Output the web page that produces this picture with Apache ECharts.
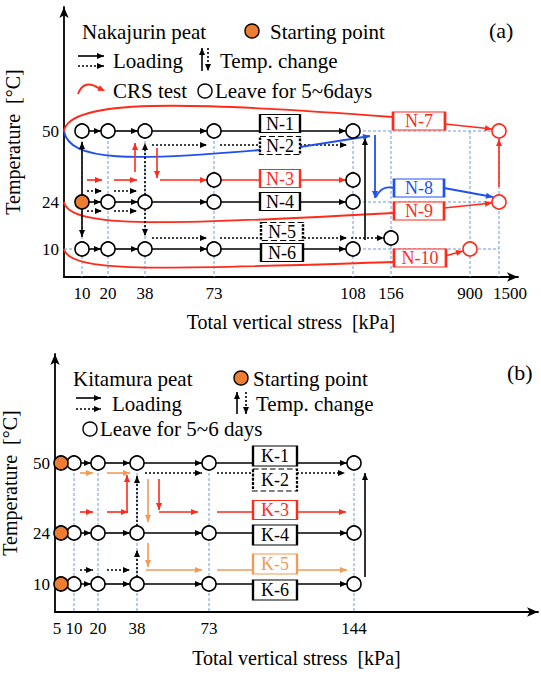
<!DOCTYPE html>
<html>
<head>
<meta charset="utf-8">
<script src="https://cdn.jsdelivr.net/npm/echarts@6/dist/echarts.min.js"></script>
<style>
  html, body { margin: 0; padding: 0; background: #fff; }
  #main { width: 541px; height: 675px; }
</style>
</head>
<body>
<div id="main"></div>
<script>
// ---------- data ----------
const stressA = [10, 20, 38, 73, 108, 156, 900, 1500];   // tick labels (a)
const stressB = [5, 10, 20, 38, 73, 144];                 // tick labels (b)
const temps = [10, 24, 50];                               // temperature levels
const stepsA = [10, 20, 38, 73, 108];                     // loading steps (a)
const stepsB = [10, 20, 38, 73, 144];                     // loading steps (b)
const crsEndA = [[1500, 50], [1500, 24], [900, 10]];      // CRS end points (N-7/N-8,N-9/N-10)
const boxNamesA = ['N-1', 'N-2', 'N-3', 'N-4', 'N-5', 'N-6', 'N-7', 'N-8', 'N-9', 'N-10'];
const boxNamesB = ['K-1', 'K-2', 'K-3', 'K-4', 'K-5', 'K-6'];

// ---------- schematic axis layout (px from axis origin) ----------
const xPosA = {10: 18, 20: 44, 38: 81, 73: 150, 108: 289, 156: 327, 900: 406, 1500: 435};
const yPosA = {50: 146, 24: 75, 10: 28};
const xPosB = {5: 6, 10: 19, 20: 43, 38: 82, 73: 154, 144: 299};
const yPosB = {50: 149, 24: 79, 10: 28};
const labelNudgeA = {1500: 11};
const labelNudgeB = {5: -4};

const FONT = '"Liberation Serif", "Times New Roman", serif';
const RED = '#ff2a1a', BLUE = '#2050f0', ORANGE = '#ed7d31', ORG_LINE = '#f39a55', GUIDE = '#6d9be0';
const R = 7;

function rowArrows(xPos, steps, y) {
  const out = [];
  for (let i = 0; i < steps.length - 1; i++) {
    out.push([xPos[steps[i]] + R, y, xPos[steps[i + 1]] - R, y, 1]);
  }
  return out;
}

function head(from, to, color) {
  const dx = to[0] - from[0], dy = to[1] - from[1];
  const L = Math.hypot(dx, dy) || 1;
  const ux = dx / L, uy = dy / L, len = 7, hw = 3;
  const bx = to[0] - ux * len, by = to[1] - uy * len;
  return {type: 'polygon', shape: {points: [[to[0], to[1]], [bx - uy * hw, by + ux * hw], [bx + uy * hw, by - ux * hw]]},
    style: {fill: color, stroke: null}};
}

function segSeries(grid, color, dash, width, data, z) {
  return {
    type: 'custom', xAxisIndex: grid, yAxisIndex: grid, silent: true, clip: false, z: z || 3,
    encode: {x: [0, 2], y: [1, 3]},
    data: data,
    renderItem: function (params, api) {
      const p1 = api.coord([api.value(0), api.value(1)]);
      const p2 = api.coord([api.value(2), api.value(3)]);
      const h = api.value(4);
      const kids = [{type: 'line', shape: {x1: p1[0], y1: p1[1], x2: p2[0], y2: p2[1]},
        style: {stroke: color, lineWidth: width, lineDash: dash, fill: 'none'}}];
      if (h >= 1) kids.push(head(p1, p2, color));
      if (h >= 2) kids.push(head(p2, p1, color));
      return {type: 'group', children: kids};
    }
  };
}

function curveSeries(grid, color, data) {
  return {
    type: 'custom', xAxisIndex: grid, yAxisIndex: grid, silent: true, clip: false, z: 2,
    encode: {x: [0, 2, 4, 6], y: [1, 3, 5, 7]},
    data: data,
    renderItem: function (params, api) {
      const p = [0, 2, 4, 6].map(i => api.coord([api.value(i), api.value(i + 1)]));
      return {type: 'bezierCurve', shape: {x1: p[0][0], y1: p[0][1], cpx1: p[1][0], cpy1: p[1][1],
        cpx2: p[2][0], cpy2: p[2][1], x2: p[3][0], y2: p[3][1]},
        style: {stroke: color, lineWidth: 1.8, fill: 'none'}};
    }
  };
}

function circles(grid, pts, fill, stroke) {
  return {type: 'scatter', xAxisIndex: grid, yAxisIndex: grid, silent: true, z: 6,
    symbol: 'circle', symbolSize: 14, data: pts,
    itemStyle: {color: fill, borderColor: stroke, borderWidth: 1.6, opacity: 1}};
}

function boxes(grid, items) {
  return {type: 'scatter', xAxisIndex: grid, yAxisIndex: grid, silent: true, z: 5,
    symbol: 'rect',
    data: items.map(b => ({name: b.name, value: [b.x, b.y], symbolSize: b.size,
      itemStyle: {color: '#fff', opacity: 1, borderColor: b.color, borderWidth: 1.6, borderType: b.dash ? [4, 2] : 'solid'},
      label: {color: b.color}})),
    label: {show: true, position: 'inside', formatter: '{b}', fontSize: 18, fontFamily: FONT,
      textBorderWidth: 0, opacity: 1}};
}

function xAxisCfg(grid, max, ticks, xPos, nudge, gap) {
  const pos = ticks.map(s => xPos[s] + (nudge[s] || 0));
  const map = {};
  pos.forEach((p, i) => { map[p] = String(ticks[i]); });
  return {type: 'value', gridIndex: grid, min: 0, max: max, splitLine: {show: false}, axisTick: {show: false},
    axisLine: {lineStyle: {color: '#000', width: 1.8}, symbol: ['none', 'arrow'], symbolSize: [7, 11]},
    axisLabel: {customValues: pos, formatter: v => map[Math.round(v)] || '', color: '#000', fontSize: 17,
      fontFamily: FONT, margin: 8},
    name: 'Total vertical stress  [kPa]', nameLocation: 'middle', nameGap: gap,
    nameTextStyle: {color: '#000', fontSize: 20, fontFamily: FONT}};
}

function yAxisCfg(grid, max, yPos, gap) {
  const pos = temps.map(t => yPos[t]);
  const map = {};
  pos.forEach((p, i) => { map[p] = String(temps[i]); });
  return {type: 'value', gridIndex: grid, min: 0, max: max, splitLine: {show: false}, axisTick: {show: false},
    axisLine: {lineStyle: {color: '#000', width: 1.8}, symbol: ['none', 'arrow'], symbolSize: [7, 11]},
    axisLabel: {customValues: pos, formatter: v => map[Math.round(v)] || '', color: '#000', fontSize: 17,
      fontFamily: FONT, margin: 5},
    name: 'Temperature  [°C]', nameLocation: 'middle', nameGap: gap,
    nameTextStyle: {color: '#000', fontSize: 20, fontFamily: FONT}};
}

// ---------- panel (a) marks ----------
const XA = xPosA, YA = yPosA;
const rN2 = 132, rN3 = 97, rN5 = 39, rUp = 86, rDn = 66;

const openA = [];
temps.forEach(t => stepsA.forEach(s => { if (!(t === 24 && s === 10)) openA.push([XA[s], YA[t]]); }));
openA.push([XA[73], rN3], [XA[108], rN3], [XA[156], rN5]);
const redOpenA = crsEndA.map(e => [XA[e[0]], YA[e[1]]]);

const solidA = [].concat(rowArrows(XA, stepsA, YA[50]), rowArrows(XA, stepsA, YA[24]), rowArrows(XA, stepsA, YA[10]), [
  [XA[10], YA[24] + R, XA[10], 135, 1], [XA[10], YA[24] - R, XA[10], 40, 1],
  [301, 37, 301, 139, 1]
]);
const dottedA = [
  [88, rN2, 143, rN2, 1], [156, rN2, 283, rN2, 1],
  [88, rN5, 143, rN5, 1], [156, rN5, 283, rN5, 1], [287, rN5, XA[156] - R, rN5, 1],
  [23, rUp, 38, rUp, 1], [50, rUp, 73, rUp, 1], [23, rDn, 38, rDn, 1], [50, rDn, 73, rDn, 1],
  [XA[38], YA[24] + R, XA[38], 134, 1], [XA[38], YA[24] - R, XA[38], 41, 1]
];
const redA = [
  [23, rN3, 38, rN3, 1], [50, rN3, 73, rN3, 1],
  [71, 105, 71, 134, 1], [93, 129, 93, 99, 1], [96, rN3, 143, rN3, 1],
  [XA[73] + R, rN3, XA[108] - R, rN3, 1],
  [381, 153, 428, 148, 1], [380, 69, 428, 74, 1], [381, 21, 399, 26, 1],
  [XA[1500], 90, XA[1500], YA[50] - R - 1, 1]
];
const blueA = [
  [236, 130, 306, 141, 1], [311, 142, 311, 79, 1], [380, 89, 429, 80, 1]
];
const guidesA = [];
[10, 20, 38, 73, 108, 156, 900, 1500].forEach(s => guidesA.push([XA[s], YA[50], XA[s], 0, 0]));
[50, 24, 10].forEach(t => guidesA.push([XA[108], YA[t], XA[1500], YA[t], 0]));
guidesA.push([0, YA[10], XA[10], YA[10], 0]);

const redCurvesA = [
  [0, YA[50], 5, 178, 120, 176, 329, 160],
  [0, YA[24], 5, 48, 110, 52, 330, 64],
  [0, YA[10], 5, 3, 110, 8, 330, 15]
];
const blueCurvesA = [
  [0, YA[50], 5, 115, 70, 116, 196, 127],
  [312, 80, 316, 88, 321, 91, 331, 89]
];
const boxStyleA = [
  {x: 216, y: 153.5, size: [40, 18], color: '#000'},
  {x: 216, y: 131.5, size: [40, 18], color: '#000', dash: true},
  {x: 216, y: 98.5, size: [40, 18], color: RED},
  {x: 216, y: 75.5, size: [40, 18], color: '#000'},
  {x: 218, y: 45.5, size: [42, 18], color: '#000', dash: true},
  {x: 218, y: 24.5, size: [42, 18], color: '#000'},
  {x: 355, y: 156, size: [52, 18], color: RED},
  {x: 355, y: 89, size: [50, 18], color: BLUE},
  {x: 355, y: 66, size: [50, 18], color: RED},
  {x: 356, y: 19, size: [52, 18], color: RED}
];
const boxesA = boxNamesA.map((n, i) => Object.assign({name: n}, boxStyleA[i]));

// ---------- panel (b) marks ----------
const XB = xPosB, YB = yPosB;
const rK2 = 139, rK3 = 100, rK5 = 42;
const openB = [];
temps.forEach(t => stepsB.forEach(s => openB.push([XB[s], YB[t]])));
const startB = temps.map(t => [XB[5], YB[t]]);

const solidB = [].concat(rowArrows(XB, stepsB, YB[50]), rowArrows(XB, stepsB, YB[24]), rowArrows(XB, stepsB, YB[10]), [
  [310, 35, 310, 139, 1]
]);
const dottedB = [
  [90, rK2, 147, rK2, 1], [162, rK2, 290, rK2, 1],
  [25, rK5, 38, rK5, 1], [52, rK5, 75, rK5, 1],
  [XB[38], YB[24] + R, XB[38], 136, 1], [XB[38], YB[10] + R, XB[38], 62, 1]
];
const redB = [
  [25, rK3, 38, rK3, 1], [52, rK3, 73, rK3, 1],
  [72, 99, 72, 137, 1], [104, 133, 104, 102, 1], [104, rK3, 143, rK3, 1],
  [162, rK3, 291, rK3, 1]
];
const orangeB = [
  [25, rK2, 38, rK2, 1], [52, rK2, 75, rK2, 1],
  [93, 133, 93, 90, 1], [93, 69, 93, 45, 1],
  [91, rK5, 147, rK5, 1], [162, rK5, 292, rK5, 1]
];
const guidesB = stepsB.map(s => [XB[s], YB[50], XB[s], 0, 0]);
const boxStyleB = [
  {x: 220, y: 156, size: [44, 20], color: '#000'},
  {x: 220, y: 132, size: [44, 22], color: '#000', dash: true},
  {x: 220, y: 102, size: [44, 19], color: RED},
  {x: 220, y: 77, size: [44, 20], color: '#000'},
  {x: 220, y: 48, size: [44, 20], color: ORG_LINE},
  {x: 220, y: 22, size: [44, 20], color: '#000'}
];
const boxesB = boxNamesB.map((n, i) => Object.assign({name: n}, boxStyleB[i]));

// ---------- legend graphics ----------
function gText(x, y, text, size) {
  return {type: 'text', x: x, y: y, silent: true,
    style: {text: text, font: (size || 21) + 'px ' + FONT, fill: '#000', verticalAlign: 'middle'}};
}
function gArrow(x1, y1, x2, y2, color, dash) {
  return [{type: 'line', silent: true, shape: {x1: x1, y1: y1, x2: x2, y2: y2},
    style: {stroke: color, lineWidth: 1.6, lineDash: dash || null}}, head([x1, y1], [x2, y2], color)];
}
function gCircle(x, y, fill) {
  return {type: 'circle', silent: true, shape: {cx: x, cy: y, r: 7}, style: {fill: fill, stroke: '#000', lineWidth: 1.4}};
}
const graphics = [].concat(
  gText(82, 32, 'Nakajurin peat'), gCircle(252, 31, ORANGE), gText(270, 32, 'Starting point'), gText(489, 30, '(a)', 22),
  gArrow(78, 56, 104, 56, '#000'), gArrow(78, 66, 104, 66, '#000', [2, 2]), gText(113, 61, 'Loading'),
  gArrow(202, 71, 202, 48, '#000'), gArrow(208, 48, 208, 71, '#000', [2, 2]), gText(220, 61, 'Temp. change'),
  {type: 'bezierCurve', silent: true, shape: {x1: 78, y1: 94, cpx1: 84, cpy1: 78, x2: 100, y2: 89},
    style: {stroke: RED, lineWidth: 1.8, fill: 'none'}},
  head([94, 86], [105, 91], RED),
  gText(113, 91, 'CRS test'), gCircle(205, 91, '#fff'), gText(215, 91, 'Leave for 5~6days'),

  gText(73, 379, 'Kitamura peat'), gCircle(241, 378, ORANGE), gText(253, 379, 'Starting point'), gText(507, 372, '(b)', 22),
  gArrow(76, 398, 101, 398, '#000'), gArrow(76, 409, 101, 409, '#000', [2, 2]), gText(112, 404, 'Loading'),
  gArrow(237, 414, 237, 392, '#000'), gArrow(246, 392, 246, 414, '#000', [2, 2]), gText(256, 404, 'Temp. change'),
  gCircle(90, 429, '#fff'), gText(100, 429, 'Leave for 5~6 days')
);

const chart = echarts.init(document.getElementById('main'), null, {renderer: 'svg'});
chart.setOption({
  animation: false,
  backgroundColor: '#fff',
  grid: [
    {left: 64, top: 7, width: 454, height: 270, outerBoundsMode: 'none', containLabel: false},
    {left: 55, top: 354, width: 483, height: 258, outerBoundsMode: 'none', containLabel: false}
  ],
  xAxis: [xAxisCfg(0, 454, stressA, xPosA, labelNudgeA, 35), xAxisCfg(1, 483, stressB, xPosB, labelNudgeB, 36)],
  yAxis: [yAxisCfg(0, 270, yPosA, 41), yAxisCfg(1, 258, yPosB, 35)],
  graphic: graphics,
  series: [
    segSeries(0, GUIDE, [3, 2], 1, guidesA, 1),
    curveSeries(0, RED, redCurvesA),
    curveSeries(0, BLUE, blueCurvesA),
    segSeries(0, '#000', null, 1.6, solidA),
    segSeries(0, '#000', [2, 2], 1.6, dottedA),
    segSeries(0, RED, null, 1.6, redA),
    segSeries(0, BLUE, null, 1.8, blueA),
    boxes(0, boxesA),
    circles(0, openA, '#fff', '#000'),
    circles(0, redOpenA, '#fff', RED),
    circles(0, [[XA[10], YA[24]]], ORANGE, '#000'),

    segSeries(1, GUIDE, [3, 2], 1, guidesB, 1),
    segSeries(1, '#000', null, 1.6, solidB),
    segSeries(1, '#000', [2, 2], 1.6, dottedB),
    segSeries(1, RED, null, 1.6, redB),
    segSeries(1, ORG_LINE, null, 1.6, orangeB),
    boxes(1, boxesB),
    circles(1, openB, '#fff', '#000'),
    circles(1, startB, ORANGE, '#000')
  ]
});
</script>
</body>
</html>
